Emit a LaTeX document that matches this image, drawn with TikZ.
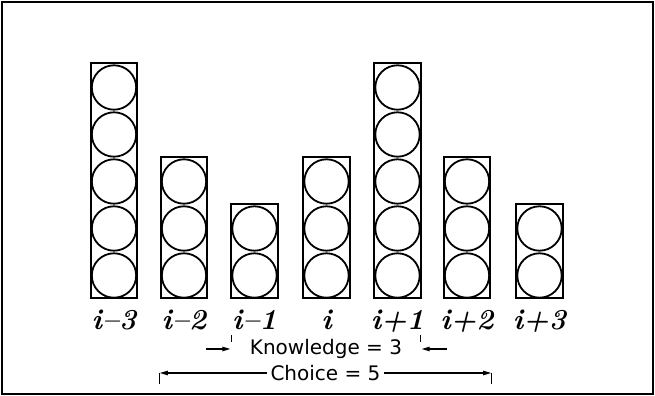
\documentclass[tikz,border=0pt]{standalone}
\usepackage{fontspec}
\usepackage{tikz}
\usetikzlibrary{arrows.meta,positioning,calc}
\newfontfamily\cadfont{DejaVu Sans}

\begin{document}
\begin{tikzpicture}[x=0.5pt,y=0.5pt]
    \tikzset{colbox/.style={draw,line width=0.9pt,minimum width=23.25pt,inner sep=0pt,anchor=south},
      slot/.style={line width=0.9pt},
      lbl/.style={font=\fontsize{14.5}{16}\selectfont\bfseries\itshape,inner sep=0pt},
      dim/.style={font=\cadfont\fontsize{10}{12}\selectfont,inner sep=1.5pt},
      dimarrow/.style={-{Triangle[length=4pt,width=2.2pt]},line width=0.6pt},
      dimtick/.style={line width=0.6pt}}
    \useasboundingbox (0,0) rectangle (655,396);
    \draw[line width=1pt] (2,2) rectangle (653,394);
    % columns of slots
    \foreach \i/\cx/\n/\lab in {1/114/5/i--3,2/184/3/i--2,3/254.5/2/i--1,4/326.5/3/i,5/397.5/5/i+1,6/467/3/i+2,7/539.5/2/i+3}{
      \node[colbox,minimum height=\n*23.5pt] (c\i) at (\cx,97) {};
      \foreach \k in {1,...,\n}
        \draw[slot] (\cx,97+47*\k-23.5) circle[radius=11.1pt];
      \node[lbl,below=5.5pt of c\i] (l\i) {\lab};
    }
    \node[dim] (know) at (326,47) {Knowledge = 3};
    \coordinate (kL) at (c3.west |- know);
    \coordinate (kR) at (c5.east |- know);
    \draw[dimarrow] ($(kL)+(-24,0)$) -- (kL);
    \draw[dimarrow] ($(kR)+(25,0)$) -- (kR);
    \draw[dimtick] ($(kL)+(1.5,7)$) -- ++(0,7);
    \draw[dimtick] ($(kR)+(-1.5,7)$) -- ++(0,7);
    \node[dim] (choice) at (325.5,23) {Choice = 5};
    \coordinate (cL) at (c2.west |- choice);
    \coordinate (cR) at (c6.east |- choice);
    \draw[dimarrow] (choice.west) -- (cL);
    \draw[dimarrow] (choice.east) -- (cR);
    \draw[dimtick] (cL) -- ++(0,-11);
    \draw[dimtick] (cR) -- ++(0,-11);
  \end{tikzpicture}
\end{document}
